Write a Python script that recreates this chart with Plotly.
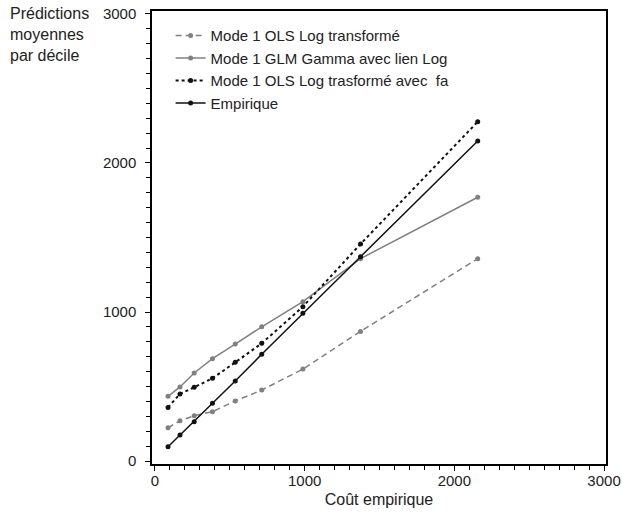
import plotly.graph_objects as go

cout_empirique = [87, 167, 262, 384, 536, 713, 988, 1373, 2156]
ols_log = [223, 270, 304, 331, 403, 476, 617, 870, 1358]
glm_gamma = [434, 497, 591, 687, 785, 901, 1069, 1358, 1770]
ols_log_fa = [360, 450, 495, 555, 662, 790, 1036, 1456, 2277]
empirique = [96, 174, 264, 387, 537, 716, 991, 1371, 2148]

names = ["Mode 1 OLS Log transformé", "Mode 1 GLM Gamma avec lien Log",
         "Mode 1 OLS Log trasformé avec  fa", "Empirique"]

GRAY = "#808080"
BLACK = "#111111"
FONT = "Liberation Sans, Arial, Helvetica, sans-serif"

fig = go.Figure()
series = [
    (ols_log, GRAY, "6px,4px", 1.5),
    (glm_gamma, GRAY, "solid", 1.5),
    (ols_log_fa, BLACK, "3px,3px", 2),
    (empirique, BLACK, "solid", 1.5),
]
for (vals, col, dash, w), nm in zip(series, names):
    fig.add_trace(go.Scatter(
        x=cout_empirique, y=vals, name=nm, mode="lines+markers",
        line=dict(color=col, dash=dash, width=w),
        marker=dict(color=col, size=5),
    ))

axis_common = dict(
    showgrid=False, zeroline=False, showline=True, linecolor="black",
    linewidth=1.5, mirror=True, ticks="outside", ticklen=5, tickwidth=1,
    tickcolor="black", dtick=1000, automargin=False,
    tickfont=dict(size=15, color="#222", family=FONT),
    minor=dict(dtick=100, ticks="outside", ticklen=4, tickcolor="black", tickwidth=1),
)

fig.update_layout(
    width=622, height=514,
    margin=dict(l=152, r=16, t=11, b=50),
    paper_bgcolor="white", plot_bgcolor="white",
    font=dict(family=FONT, size=15, color="#222"),
    showlegend=True,
    legend=dict(x=0.041, y=0.982, xanchor="left", yanchor="top",
                bgcolor="rgba(0,0,0,0)", font=dict(size=15, color="#222"),
                tracegroupgap=0),
    xaxis=dict(range=[-20, 3013], tickvals=[0, 1000, 2000, 3000],
               ticklabelstandoff=-3,
               title=dict(text="Coût empirique", font=dict(size=16), standoff=6),
               **axis_common),
    yaxis=dict(range=[-20, 3020], tickvals=[0, 1000, 2000, 3000],
               ticklabelstandoff=6, **axis_common),
    annotations=[dict(
        text="Prédictions<br>moyennes<br>par décile", xref="paper", yref="paper",
        x=(8 - 152) / 454, y=(464 - 3) / 453, xanchor="left", yanchor="top",
        align="left", showarrow=False, font=dict(size=16, color="#222"),
    )],
)

fig.write_html("out.html", post_script="document.body.style.margin='0';",
               config={"displayModeBar": False})
